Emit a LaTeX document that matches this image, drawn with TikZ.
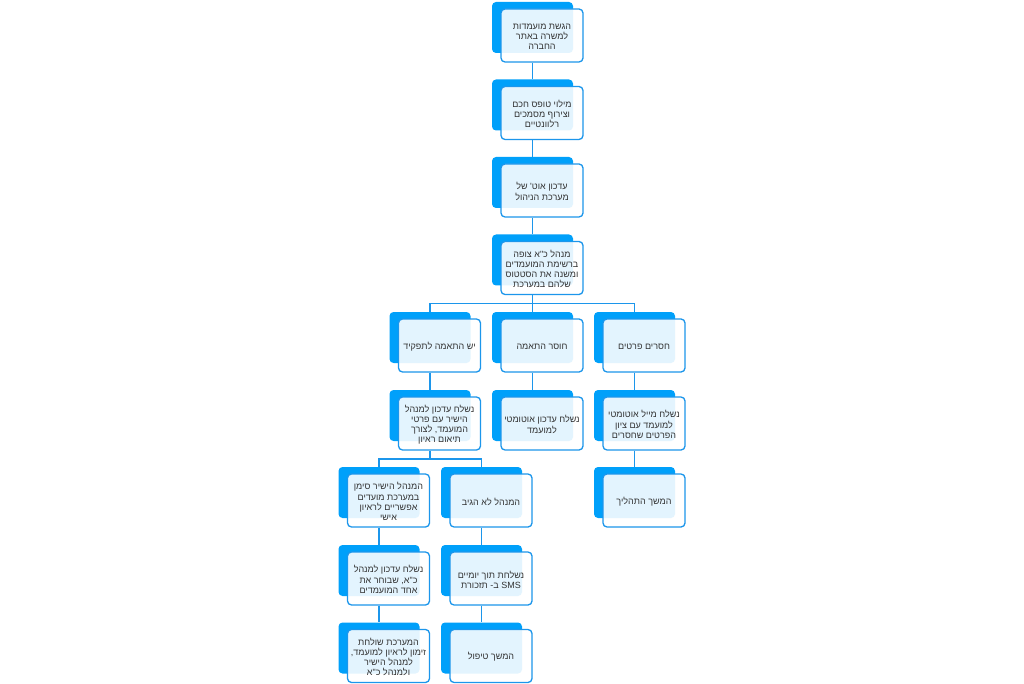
\documentclass[tikz,border=0pt]{standalone}
\usepackage{fontspec}
\newfontfamily\heb[Script=Hebrew]{Liberation Sans}
\TeXXeTstate=1
\definecolor{backblue}{RGB}{0,160,250}
\definecolor{edgeblue}{RGB}{28,150,235}
\definecolor{txt}{RGB}{51,51,51}
\tikzset{
 backbox/.style={draw=none,fill=backblue,rounded corners=4pt,minimum width=81pt,minimum height=51pt,inner sep=0pt},
 frontbox/.style={draw=edgeblue,line width=1.3pt,fill=white,fill opacity=0.89,text opacity=1,rounded corners=4pt,minimum width=82pt,minimum height=53pt,inner sep=0pt,align=center,text=txt,font=\heb\fontsize{9}{10.2}\selectfont},
 conn/.style={draw=edgeblue,line width=1.3pt}
}
\newcommand{\hb}[1]{\beginR #1\endR}
\newcommand{\flowbox}[4]{%
 \node[backbox] (#1b) at ({#2-9.5},{#3-8}) {};
 \node[frontbox] (#1) at (#2,#3) {};
 \node[text=txt,align=center,inner sep=0pt,font=\heb\fontsize{9}{10.2}\selectfont] (#1t) at (#2,{#3+1}) {#4};}
\begin{document}
\begin{tikzpicture}[x=1pt,y=-1pt]
\fill[white] (0,0) rectangle (1024,684);
\useasboundingbox (0,0) rectangle (1024,684);
\flowbox{n1}{542}{35.5}{\hb{הגשת מועמדות}\\\hb{למשרה באתר}\\\hb{החברה}}
\flowbox{n2}{542}{113}{\hb{מילוי טופס חכם}\\\hb{וצירוף מסמכים}\\\hb{רלוונטיים}}
\flowbox{n3}{542}{190.5}{\hb{עדכון אוט' של}\\\hb{מערכת הניהול}}
\flowbox{n4}{542}{268}{\hb{מנהל כ"א צופה}\\\hb{ברשימת המועמדים}\\\hb{ומשנה את הסטטוס}\\\hb{שלהם במערכת}}
\flowbox{n5L}{439.5}{345.5}{\hb{יש התאמה לתפקיד}}
\flowbox{n5M}{542}{345.5}{\hb{חוסר התאמה}}
\flowbox{n5R}{644}{345.5}{\hb{חסרים פרטים}}
\flowbox{n6L}{439.5}{423.5}{\hb{נשלח עדכון למנהל}\\\hb{הישיר עם פרטי}\\\hb{המועמד, לצורך}\\\hb{תיאום ראיון}}
\flowbox{n6M}{542}{423.5}{\hb{נשלח עדכון אוטומטי}\\\hb{למועמד}}
\flowbox{n6R}{644}{423.5}{\hb{נשלח מייל אוטומטי}\\\hb{למועמד עם ציון}\\\hb{הפרטים שחסרים}}
\flowbox{n7A}{388.5}{500.5}{\hb{המנהל הישיר סימן}\\\hb{במערכת מועדים}\\\hb{אפשריים לראיון}\\\hb{אישי}}
\flowbox{n7B}{491}{500.5}{\hb{המנהל לא הגיב}}
\flowbox{n7R}{644}{500.5}{\hb{המשך התהליך}}
\flowbox{n8A}{388.5}{578.5}{\hb{נשלח עדכון למנהל}\\\hb{כ"א, שבוחר את}\\\hb{אחד המועמדים}}
\flowbox{n8B}{491}{578.5}{\hb{נשלחת תוך יומיים}\\\hbox{תזכורת}\ \hbox{ב-}\ \hbox{SMS}}
\flowbox{n9A}{388.5}{656}{\hb{המערכת שולחת}\\\hb{זימון לראיון למועמד,}\\\hb{למנהל הישיר}\\\hb{ולמנהל כ"א}}
\flowbox{n9B}{491}{656}{\hb{המשך טיפול}}
\coordinate (bar4) at (0,303.25);
\coordinate (bar6) at (0,459);
\draw[conn] (n1b.center |- n1.south) -- (n2b.north);
\draw[conn] (n2b.center |- n2.south) -- (n3b.north);
\draw[conn] (n3b.center |- n3.south) -- (n4b.north);
\draw[conn] (n4b.center |- n4.south) -- (n4b.center |- bar4);
\draw[conn] (n5Lb.north) -- (n5Lb.north |- bar4) -- (n5Rb.north |- bar4) -- (n5Rb.north);
\draw[conn] (n5Mb.north |- bar4) -- (n5Mb.north);
\draw[conn] (n5Lb.center |- n5L.south) -- (n6Lb.north);
\draw[conn] (n5Mb.center |- n5M.south) -- (n6Mb.north);
\draw[conn] (n5Rb.center |- n5R.south) -- (n6Rb.north);
\draw[conn] (n6Lb.center |- n6L.south) -- (n6Lb.center |- bar6);
\draw[conn] (n7Ab.north) -- (n7Ab.north |- bar6) -- (n7Bb.north |- bar6) -- (n7Bb.north);
\draw[conn] (n6Rb.center |- n6R.south) -- (n7Rb.north);
\draw[conn] (n7Ab.center |- n7A.south) -- (n8Ab.north);
\draw[conn] (n7Bb.center |- n7B.south) -- (n8Bb.north);
\draw[conn] (n8Ab.center |- n8A.south) -- (n9Ab.north);
\draw[conn] (n8Bb.center |- n8B.south) -- (n9Bb.north);
\end{tikzpicture}
\end{document}
